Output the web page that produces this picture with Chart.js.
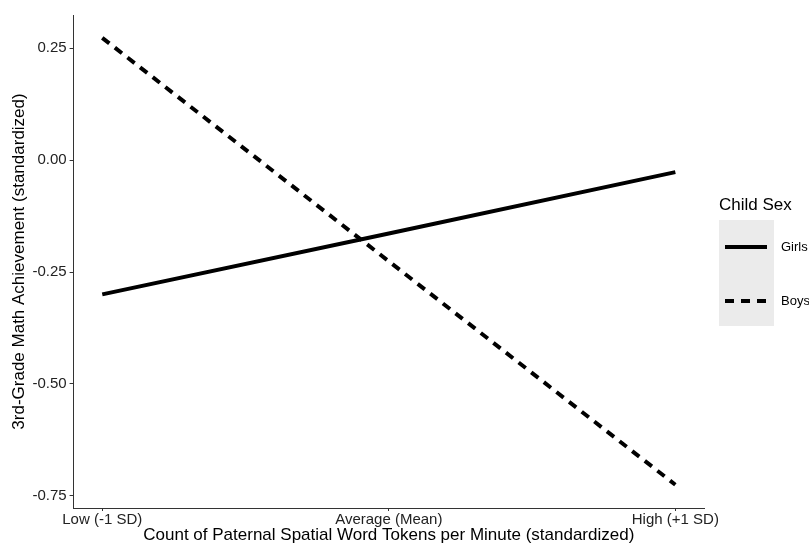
<!DOCTYPE html>
<html>
<head>
<meta charset="utf-8">
<script src="https://cdn.jsdelivr.net/npm/chart.js@4/dist/chart.umd.min.js"></script>
<style>
  html, body { margin: 0; padding: 0; background: #fff; }
  #wrap { width: 809px; height: 544px; }
</style>
</head>
<body>
<div id="wrap"><canvas id="interaction-viz" width="809" height="544"></canvas></div>
<script>
// x positions: -1 SD, mean, +1 SD
var xLabels = [ 'Low (-1 SD)', 'Average (Mean)', 'High (+1 SD)' ];
var xValues = [ 0, 1, 2 ];
var yTicks  = [ 0.25, 0.00, -0.25, -0.50, -0.75 ];

var yValues_girls = [ -0.300, -0.164, -0.027 ];
var yValues_boys  = [  0.273, -0.226, -0.725 ];

var legendTitle = 'Child Sex';

function toPoints(xs, ys) {
	return xs.map(function(x, i) { return { x: x, y: ys[i] }; });
}

// ggplot-style legend, drawn on the right
var sideLegend = {
	id: 'sideLegend',
	afterDraw: function(chart) {
		var ctx = chart.ctx;
		var x0 = 719, y0 = 220, w = 55, h = 106;
		ctx.save();
		ctx.fillStyle = '#000';
		ctx.font = '17px "Liberation Sans", Arial, sans-serif';
		ctx.textBaseline = 'middle';
		ctx.fillText(legendTitle, 719, 205);
		ctx.fillStyle = '#ebebeb';
		ctx.fillRect(x0, y0, w, h);
		chart.data.datasets.forEach(function(ds, i) {
			var y = y0 + 27 + i * 54;
			ctx.strokeStyle = ds.borderColor;
			ctx.lineWidth = ds.borderWidth;
			ctx.setLineDash(ds.borderDash || []);
			ctx.beginPath();
			ctx.moveTo(725, y);
			ctx.lineTo(767, y);
			ctx.stroke();
			ctx.setLineDash([]);
			ctx.fillStyle = '#000';
			ctx.font = '13px "Liberation Sans", Arial, sans-serif';
			ctx.fillText(ds.label, 781, y);
		});
		ctx.restore();
	}
};

var ctx = document.getElementById('interaction-viz');
var cfg = {
	type: 'line',
	data: {
		datasets: [
			{ label: 'Girls',
			  data: toPoints(xValues, yValues_girls),
			  borderColor: '#000',
			  borderWidth: 4,
			  pointRadius: 0,
			  fill: false
			},
			{ label: 'Boys',
			  data: toPoints(xValues, yValues_boys),
			  borderColor: '#000',
			  borderWidth: 4,
			  borderDash: [ 9, 7 ],
			  pointRadius: 0,
			  fill: false
			}
		]
	},
	options: {
		responsive: false,
		animation: false,
		layout: { padding: { left: 9, right: 105, top: 15, bottom: 0 } },
		plugins: {
			legend: { display: false },
			tooltip: { enabled: false }
		},
		scales: {
			x: {
				type: 'linear',
				min: -0.1,
				max: 2.1,
				afterBuildTicks: function(axis) {
					axis.ticks = xValues.map(function(v) { return { value: v }; });
				},
				ticks: {
					color: '#222',
					font: { family: '"Liberation Sans", Arial, sans-serif', size: 15 },
					padding: 0,
					maxRotation: 0,
					autoSkip: false,
					callback: function(v) { return xLabels[v]; }
				},
				grid: { display: true, drawOnChartArea: false, tickLength: 3, color: '#333' },
				border: { display: true, color: '#333', width: 1 },
				title: { display: true,
				         text: 'Count of Paternal Spatial Word Tokens per Minute (standardized)',
				         color: '#000',
				         font: { family: '"Liberation Sans", Arial, sans-serif', size: 17, lineHeight: 1.0 },
				         padding: { top: -2, bottom: 0 }
				}
			},
			y: {
				min: -0.777,
				max: 0.324,
				afterBuildTicks: function(axis) {
					axis.ticks = yTicks.map(function(v) { return { value: v }; });
				},
				ticks: {
					color: '#222',
					font: { family: '"Liberation Sans", Arial, sans-serif', size: 15 },
					padding: 3,
					callback: function(v) { return v.toFixed(2); }
				},
				grid: { display: true, drawOnChartArea: false, tickLength: 4, color: '#333' },
				border: { display: true, color: '#333', width: 1 },
				title: { display: true,
				         text: '3rd-Grade Math Achievement (standardized)',
				         color: '#000',
				         font: { family: '"Liberation Sans", Arial, sans-serif', size: 17 },
				         padding: { top: 0, bottom: 0 }
				}
			}
		}
	},
	plugins: [ sideLegend ]
};
new Chart(ctx, cfg);
</script>
</body>
</html>
